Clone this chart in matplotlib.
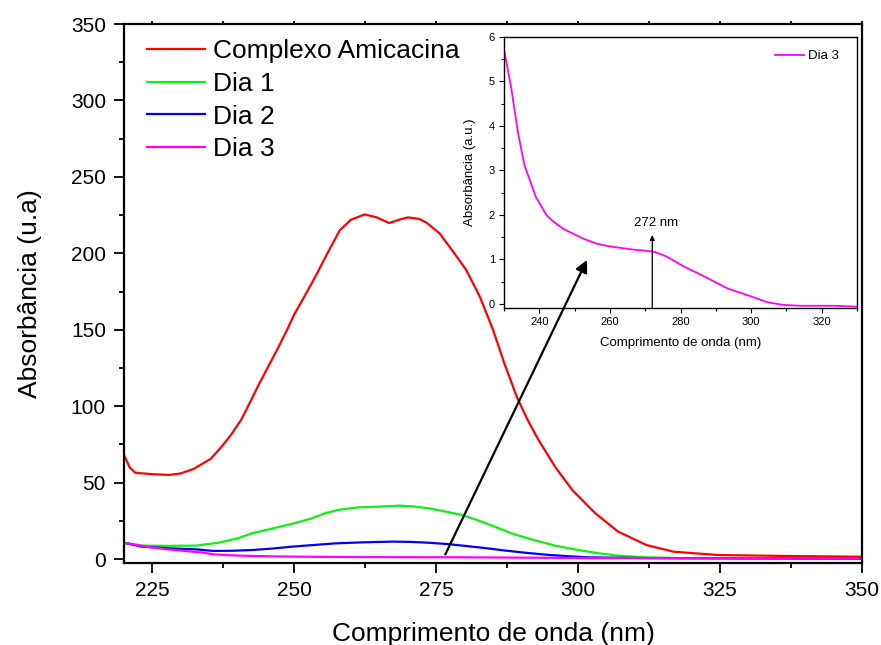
import matplotlib
matplotlib.use("Agg")
import matplotlib.pyplot as plt
from matplotlib.ticker import MultipleLocator

plt.rcParams['font.family'] = ['Liberation Sans', 'DejaVu Sans']

# ---- main spectra ----
red_x = [220, 221, 222, 225, 228, 230, 232.3, 235.3, 237.3, 239, 240.7, 242, 243.6, 245, 247, 249, 250,
         251.6, 253.9, 255.7, 258, 260, 262.4, 264.5, 266.7, 268.5, 270, 272, 273.3, 275.6, 278, 280.3,
         282.7, 285, 287, 289.2, 291.1, 293, 296, 299, 303, 307, 312, 316.8, 324.7, 336.6, 349.5, 350]
red_y = [68, 60, 56.4, 55.5, 55, 56, 59, 65.6, 73.9, 82, 91.4, 101, 113, 123, 137, 152, 160,
         170.5, 186, 199, 215, 222, 225.4, 223.5, 219.8, 222, 223.5, 222.5, 220, 213, 201, 189,
         171.5, 150, 128, 106, 91, 78, 60, 45, 30, 18, 9.2, 4.8, 2.6, 2.0, 1.5, 1.5]

green_x = [220, 223.5, 228, 232.8, 236.7, 240, 242.6, 246, 250.1, 253, 255.5, 258, 261.4, 265, 268.4,
           271, 273.4, 276, 279.3, 282, 285.2, 288.5, 292.1, 296, 300, 303.5, 307, 312, 318, 330, 350]
green_y = [10.3, 8.8, 8.6, 8.8, 10.7, 13.5, 16.9, 19.8, 23.5, 26.5, 30, 32.3, 33.8, 34.3, 34.9,
           34.4, 33.3, 31.5, 29, 25.8, 21.3, 16.5, 12.5, 8.7, 5.9, 3.8, 2.2, 1.1, 0.6, 0.4, 0.3]

blue_x = [220, 223.1, 228, 232.8, 235.7, 239, 242.6, 246, 249.6, 253.5, 257.5, 262, 267.4, 270.5,
          273.4, 277, 280.3, 284, 287.2, 291, 295.1, 298.5, 302, 307, 312, 330, 350]
blue_y = [10.7, 8.1, 7.0, 6.3, 5.3, 5.4, 5.9, 6.8, 8.1, 9.2, 10.3, 10.9, 11.4, 11.2,
          10.7, 9.8, 8.5, 7.0, 5.5, 4.0, 2.6, 1.8, 1.1, 0.8, 0.6, 0.4, 0.3]

mag_x = [220, 224, 227.8, 231, 233.9, 235.7, 239, 242.6, 247, 252.7, 260, 270, 280, 290, 300, 320, 350]
mag_y = [10.7, 8.0, 6.3, 5.2, 4.2, 3.1, 2.4, 2.0, 1.7, 1.5, 1.3, 1.2, 1.1, 0.9, 0.7, 0.5, 0.4]

labels = ["Complexo Amicacina", "Dia 1", "Dia 2", "Dia 3"]
colors = ["#ff0000", "#11ee11", "#0000ee", "#ff00ff"]

# ---- inset (Dia 3) ----
ins_x = [230, 232, 234, 235.8, 239, 242, 244, 247, 252.7, 256.5, 260.3, 266.9, 269.7, 272.7, 276,
         281, 285.7, 293.3, 300, 304.6, 309, 314, 323.5, 330]
ins_y = [5.72, 4.88, 3.84, 3.12, 2.41, 2.0, 1.85, 1.68, 1.46, 1.35, 1.29, 1.22, 1.20, 1.17, 1.07,
         0.84, 0.66, 0.35, 0.17, 0.04, -0.02, -0.04, -0.04, -0.06]
peak_nm = 272

fig = plt.figure(figsize=(8.81, 6.45), dpi=100)
ax = fig.add_axes([124/881, (645-563)/645, 738/881, 539/645])

series = [(red_x, red_y), (green_x, green_y), (blue_x, blue_y), (mag_x, mag_y)]
for (xs, ys), lab, c in zip(series, labels, colors):
    ax.plot(xs, ys, color=c, lw=1.6, label=lab)

ax.set_xlim(220, 350)
ax.set_ylim(-2.6, 350)
ax.xaxis.set_major_locator(MultipleLocator(25))
ax.xaxis.set_minor_locator(MultipleLocator(12.5))
ax.yaxis.set_major_locator(MultipleLocator(50))
ax.yaxis.set_minor_locator(MultipleLocator(25))
ax.tick_params(axis='both', which='major', direction='out', length=7, width=1.3, labelsize=15, pad=6)
ax.tick_params(axis='both', which='minor', direction='out', length=3.5, width=1.3)
ax.tick_params(axis='x', which='both', top=True, labeltop=False)
for s in ax.spines.values():
    s.set_linewidth(1.6)
ax.set_xlabel("Comprimento de onda (nm)", fontsize=19, labelpad=16)
ax.set_ylabel("Absorbância (u.a)", fontsize=19, labelpad=21)
for t in ax.xaxis.get_major_ticks() + ax.xaxis.get_minor_ticks():
    t.tick2line.set_markersize(2.5)

leg = ax.legend(loc='upper left', bbox_to_anchor=(0.031, 0.972), frameon=False, fontsize=19,
                handlelength=2.2, handletextpad=0.3, labelspacing=0.33, borderpad=0, borderaxespad=0)

# inset
ins = fig.add_axes([504/881, (645-308)/645, 353/881, 271/645])
ins.plot(ins_x, ins_y, color="#ff00ff", lw=1.3, label="Dia 3")
ins.set_xlim(230, 330)
ins.set_ylim(-0.09, 6.0)
ins.xaxis.set_major_locator(MultipleLocator(20))
ins.xaxis.set_minor_locator(MultipleLocator(10))
ins.yaxis.set_major_locator(MultipleLocator(1))
ins.yaxis.set_minor_locator(MultipleLocator(0.5))
ins.tick_params(axis='both', which='major', direction='out', length=3.5, width=0.8, labelsize=8, pad=3)
ins.tick_params(axis='both', which='minor', direction='out', length=2, width=0.8)
for s in ins.spines.values():
    s.set_linewidth(1.0)
ins.set_xlabel("Comprimento de onda (nm)", fontsize=9.5, labelpad=7)
ins.set_ylabel("Absorbância (a.u.)", fontsize=9.5, labelpad=9)
ins.legend(loc='upper right', frameon=False, fontsize=9.5, handlelength=2.2, handletextpad=0.3,
           borderaxespad=0.6, bbox_to_anchor=(0.985, 1.0))

# 272 nm marker arrow
ins.annotate("", xy=(peak_nm, 1.55), xytext=(peak_nm, -0.09),
             arrowprops=dict(arrowstyle='-|>', color='black', lw=0.9, mutation_scale=7,
                             shrinkA=0, shrinkB=0))
ins.text(peak_nm + 1.2, 1.82, "272 nm", fontsize=9.5, ha='center', va='center')

# big arrow from main Dia 3 curve to inset
ins.annotate("", xy=(253.5, 0.99), xycoords='data', xytext=(276.6, 3), textcoords=ax.transData,
             arrowprops=dict(arrowstyle='-|>', color='black', lw=1.6, mutation_scale=18,
                             shrinkA=0, shrinkB=0), annotation_clip=False)

fig.savefig("out.png", dpi=100)
